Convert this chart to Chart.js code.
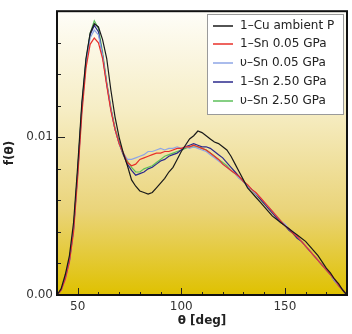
<!DOCTYPE html>
<html><head><meta charset="utf-8">
<script src="https://cdn.jsdelivr.net/npm/chart.js@4/dist/chart.umd.min.js"></script>
<style>html,body{margin:0;padding:0;background:#fff;}#wrap{width:352px;height:334px;}</style>
</head><body><div id="wrap"><canvas id="c" width="352" height="334"></canvas></div>
<script>
const angles = [40,42,44,46,48,50,52,54,56,58,60,62,64,66,68,70,72,74,76,78,80,82,84,86,88,90,92,94,96,98,100,102,104,106,108,110,112,114,116,118,120,122,124,126,128,130,132,134,136,138,140,142,144,146,148,150,152,154,156,158,160,162,164,166,168,170,172,174,176,178,180];
const seriesNames = ["1–Cu ambient P","1–Sn 0.05 GPa","υ–Sn 0.05 GPa","1–Sn 2.50 GPa","υ–Sn 2.50 GPa"];
const cuAmbient = [0,.0004,.0013,.0025,.0046,.0082,.0122,.0150,.0166,.0172,.0170,.0162,.0150,.0130,.0113,.0100,.0090,.0082,.0073,.0069,.0066,.0065,.0064,.0065,.0068,.0071,.0074,.0078,.0081,.0086,.0091,.0095,.0099,.0101,.0104,.0103,.0101,.0099,.0097,.0096,.0094,.0092,.0088,.0083,.0078,.0073,.0068,.0065,.0062,.0059,.0056,.0053,.0050,.0048,.0046,.0044,.0042,.0040,.0038,.0036,.0034,.0031,.0028,.0025,.0021,.0017,.0014,.0010,.0007,.0003,0];
const lSn005 = [0,.0003,.0010,.0021,.0040,.0075,.0115,.0144,.0159,.0163,.0160,.0150,.0133,.0117,.0105,.0096,.0090,.0084,.0082,.0083,.0086,.0087,.0088,.0089,.0090,.0090,.0091,.0091,.0092,.0093,.0093,.0094,.0094,.0095,.0094,.0093,.0092,.0090,.0088,.0086,.0083,.0081,.0079,.0077,.0075,.0072,.0070,.0067,.0065,.0062,.0059,.0056,.0053,.0050,.0047,.0044,.0042,.0039,.0037,.0034,.0031,.0028,.0025,.0022,.0019,.0016,.0013,.0010,.0006,.0003,0];
const uSn005 = [0,.0003,.0010,.0021,.0041,.0077,.0118,.0147,.0163,.0168,.0165,.0152,.0134,.0118,.0105,.0096,.0090,.0086,.0086,.0087,.0088,.0089,.0091,.0091,.0092,.0093,.0092,.0093,.0093,.0094,.0093,.0094,.0093,.0094,.0093,.0092,.0091,.0089,.0087,.0085,.0083,.0081,.0079,.0077,.0074,.0072,.0069,.0067,.0064,.0062,.0059,.0056,.0053,.0050,.0047,.0045,.0042,.0040,.0037,.0034,.0031,.0028,.0025,.0022,.0019,.0016,.0013,.0009,.0006,.0003,0];
const lSn250 = [0,.0003,.0011,.0022,.0042,.0078,.0119,.0148,.0165,.0171,.0167,.0152,.0134,.0118,.0105,.0096,.0089,.0083,.0079,.0076,.0077,.0078,.0080,.0081,.0083,.0085,.0086,.0088,.0089,.0090,.0092,.0094,.0095,.0096,.0095,.0094,.0094,.0093,.0091,.0089,.0087,.0084,.0081,.0078,.0075,.0072,.0069,.0067,.0064,.0061,.0058,.0055,.0052,.0049,.0046,.0044,.0041,.0039,.0036,.0034,.0031,.0028,.0025,.0022,.0019,.0016,.0013,.0009,.0006,.0003,0];
const uSn250 = [0,.0003,.0011,.0022,.0042,.0079,.0120,.0149,.0166,.0174,.0169,.0154,.0135,.0119,.0106,.0097,.0090,.0085,.0081,.0078,.0078,.0080,.0081,.0082,.0084,.0086,.0088,.0089,.0090,.0091,.0092,.0093,.0094,.0094,.0094,.0093,.0092,.0090,.0088,.0086,.0084,.0082,.0079,.0077,.0074,.0072,.0069,.0067,.0064,.0061,.0058,.0056,.0053,.0050,.0047,.0044,.0042,.0039,.0036,.0034,.0031,.0028,.0025,.0022,.0019,.0016,.0013,.0010,.0006,.0003,0];
const xLabels = [50,100,150];
const yLabels = [0,0.01];
const colors = ["#1a1a1a","#e8302a","#8ea6e6","#2b2a8c","#5cbf5a"];
const allSeries = [cuAmbient,lSn005,uSn005,lSn250,uSn250];

const FONT = "'DejaVu Sans', sans-serif";

const bgPlugin = {
  id:'bg',
  beforeDatasetsDraw(chart){
    const {ctx, chartArea:a} = chart;
    const g = ctx.createLinearGradient(0,a.top,0,a.bottom);
    g.addColorStop(0,'#fefdf8');
    g.addColorStop(0.35,'#f6edc4');
    g.addColorStop(0.7,'#ead47a');
    g.addColorStop(1,'#dfc100');
    ctx.save(); ctx.fillStyle=g; ctx.fillRect(a.left,a.top,a.right-a.left,a.bottom-a.top); ctx.restore();
  },
  afterDraw(chart){
    const {ctx, chartArea:a, scales} = chart;
    ctx.save();
    ctx.strokeStyle='#222'; ctx.lineWidth=1;
    scales.x.ticks.forEach(t=>{
      const px = Math.round(scales.x.getPixelForValue(t.value))+0.5;
      const major = xLabels.includes(t.value);
      const len = major?7:3;
      ctx.beginPath(); ctx.moveTo(px,a.bottom); ctx.lineTo(px,a.bottom-len); ctx.stroke();
    });
    scales.y.ticks.forEach(t=>{
      const py = Math.round(scales.y.getPixelForValue(t.value))+0.5;
      const major = yLabels.some(v=>Math.abs(v-t.value)<1e-9);
      const len = major?8:4;
      ctx.beginPath(); ctx.moveTo(a.left,py); ctx.lineTo(a.left+len,py); ctx.stroke();
    });
    ctx.strokeStyle='#111'; ctx.lineWidth=2;
    ctx.strokeRect(a.left,a.top,a.right-a.left,a.bottom-a.top);
    const lx=207, ly=14, lw=136, lh=100;
    ctx.fillStyle='#ffffff'; ctx.fillRect(lx,ly,lw,lh);
    ctx.strokeStyle='#9a9a9a'; ctx.lineWidth=1; ctx.strokeRect(lx+0.5,ly+0.5,lw,lh);
    ctx.font = "12px "+FONT; ctx.textBaseline='middle'; ctx.textAlign='left';
    chart.data.datasets.forEach((ds,i)=>{
      const y = 25.5 + i*18.8;
      ctx.strokeStyle=ds.borderColor; ctx.lineWidth=1.5;
      ctx.beginPath(); ctx.moveTo(213,Math.round(y)); ctx.lineTo(233,Math.round(y)); ctx.stroke();
      ctx.fillStyle='#222'; ctx.fillText(ds.label,240,y);
    });
    ctx.restore();
  }
};

new Chart(document.getElementById('c'),{
  type:'line',
  data:{
    datasets: allSeries.map((s,i)=>({
      label: seriesNames[i],
      data: angles.map((a,j)=>({x:a,y:s[j]})),
      borderColor: colors[i],
      borderWidth: 1.2,
      pointRadius: 0,
      tension: 0,
      fill:false
    }))
  },
  options:{
    responsive:false, animation:false, devicePixelRatio:1,
    layout:{padding:{top:4,right:4,left:0,bottom:0}},
    plugins:{legend:{display:false}, tooltip:{enabled:false}},
    scales:{
      x:{type:'linear', min:40, max:180,
        grid:{display:false, drawTicks:false}, border:{display:false},
        ticks:{stepSize:10, padding:5, color:'#333', font:{family:FONT,size:12}, maxRotation:0, autoSkip:false,
          callback:(v)=> xLabels.includes(v)? String(v):''},
        title:{display:true, text:'θ [deg]', color:'#222', font:{family:FONT,size:12,weight:'bold'}, padding:{top:0,bottom:6}},
        afterFit(s){ s.height = 39; }
      },
      y:{type:'linear', min:0, max:0.018,
        grid:{display:false, drawTicks:false}, border:{display:false},
        ticks:{stepSize:0.002, padding:4, color:'#333', font:{family:FONT,size:12}, autoSkip:false,
          callback:(v)=> { const m = yLabels.find(t=>Math.abs(t-v)<1e-9); return m===undefined?'':m.toFixed(2);} },
        title:{display:true, text:'f(θ)', color:'#222', font:{family:FONT,size:12,weight:'bold'}, padding:{top:3,bottom:4}},
        afterFit(s){ s.width = 57; }
      }
    }
  },
  plugins:[bgPlugin]
});
</script></body></html>
